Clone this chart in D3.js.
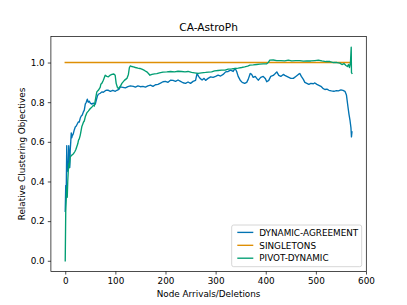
<!DOCTYPE html>
<html><head><meta charset="utf-8">
<script src="https://cdn.jsdelivr.net/npm/d3@7"></script>
<style>
html,body{margin:0;padding:0;background:#fff;}
svg{display:block;font-family:"DejaVu Sans",sans-serif;}
</style></head><body>
<div id="chart"></div>
<script>
const title = "CA-AstroPh";
const xLabel = "Node Arrivals/Deletions";
const yLabel = "Relative Clustering Objectives";
const seriesNames = ["DYNAMIC-AGREEMENT", "SINGLETONS", "PIVOT-DYNAMIC"];
const seriesColors = ["#0173B2", "#DE8F05", "#029E73"];
const xTicks = [0, 100, 200, 300, 400, 500, 600];
const yTicks = [0.0, 0.2, 0.4, 0.6, 0.8, 1.0];

const dynX = [0,1,2,3,4,5,6,7,8,9,10,11,12,13,14,16,18,20,22,24,26,28,30,32,34,36,38,40,42,44,46,48,50,53,56,60,62,64,66,70,73,76,80,83,86,90,95,100,103,107,110,115,120,125,130,136,140,145,150,155,160,165,170,175,180,185,190,195,200,205,210,215,220,225,230,235,240,245,250,255,260,263,266,269,273,277,280,285,290,295,300,305,310,315,320,325,330,335,339,342,345,349,353,358,362,365,369,372,375,379,382,385,390,395,399,402,406,410,415,419,422,426,430,435,438,442,446,450,455,460,465,468,471,475,478,482,486,490,495,498,502,506,510,514,518,522,526,531,536,541,545,550,554,558,561,564,566,568,570,571,572];
const dynY = [0.25,0.38,0.35,0.58,0.45,0.50,0.46,0.58,0.50,0.47,0.56,0.60,0.645,0.62,0.63,0.64,0.66,0.675,0.68,0.69,0.70,0.70,0.72,0.73,0.735,0.75,0.76,0.79,0.80,0.815,0.80,0.805,0.795,0.79,0.795,0.79,0.81,0.83,0.84,0.845,0.852,0.85,0.858,0.861,0.86,0.855,0.86,0.855,0.86,0.865,0.877,0.875,0.872,0.878,0.882,0.88,0.876,0.882,0.878,0.88,0.876,0.882,0.886,0.88,0.888,0.89,0.896,0.903,0.905,0.90,0.911,0.91,0.905,0.912,0.905,0.898,0.895,0.902,0.895,0.905,0.91,0.945,0.93,0.92,0.912,0.92,0.91,0.92,0.928,0.925,0.93,0.936,0.932,0.94,0.953,0.955,0.962,0.955,0.97,0.955,0.93,0.911,0.90,0.895,0.90,0.915,0.945,0.94,0.925,0.93,0.92,0.911,0.925,0.93,0.92,0.903,0.91,0.93,0.935,0.945,0.953,0.935,0.93,0.94,0.935,0.93,0.925,0.92,0.92,0.93,0.94,0.945,0.93,0.915,0.90,0.895,0.89,0.895,0.893,0.897,0.89,0.885,0.88,0.87,0.864,0.866,0.86,0.857,0.855,0.858,0.857,0.862,0.86,0.855,0.836,0.777,0.74,0.71,0.67,0.625,0.65];

const singX = [0, 569];
const singY = [1.0, 1.0];

const pivX = [0,1,2,3,4,5,6,7,8,10,12,14,16.5,19,21,23,25,26.5,28,30,33,36.5,38,40,43,46,50,53,56.4,58,60,63,66,69.7,71,73,76,79.7,83,86,89,93,97,99.6,101.6,104,106,110,113,118,123,126,128,130,133,136,140,145,149,154,158,162.7,166,169,173,178,182.7,188,195,202.6,210,218,225,232,239,245,252,258,265,272,280,286,292,298,305,312,319,325,332,339,345,352,358,364,368.5,375,382,388,395,402,405,408,415,422,430,438,445,452,460,468,475,482,490,498,505,512,520,528,535,542,548,552,556,560,563,565,567,569,570.5,571,572];
const pivY = [0.0,0.25,0.31,0.373,0.32,0.40,0.45,0.49,0.47,0.525,0.53,0.535,0.54,0.55,0.56,0.575,0.59,0.609,0.615,0.634,0.676,0.70,0.705,0.726,0.746,0.755,0.768,0.775,0.785,0.78,0.81,0.852,0.86,0.875,0.89,0.895,0.911,0.936,0.93,0.928,0.935,0.94,0.942,0.936,0.895,0.875,0.869,0.88,0.895,0.91,0.92,0.94,0.975,0.983,0.98,0.978,0.975,0.972,0.97,0.965,0.96,0.953,0.945,0.936,0.94,0.943,0.944,0.948,0.952,0.953,0.955,0.953,0.956,0.955,0.953,0.955,0.95,0.948,0.945,0.948,0.95,0.952,0.953,0.958,0.96,0.962,0.962,0.967,0.968,0.97,0.972,0.975,0.978,0.982,0.987,0.988,0.99,0.992,0.993,0.994,1.0,1.012,1.013,1.01,1.01,1.008,1.012,1.008,1.01,1.01,1.007,1.008,1.008,1.01,1.012,1.008,1.005,1.005,1.0,1.0,0.997,0.99,0.995,0.985,0.98,0.99,0.975,1.0,1.077,0.95,0.945];

const W = 407, H = 305;
const L = 50.9, R = 366.3, T = 36.6, B = 271.45;

const allX = dynX.concat(singX, pivX), allY = dynY.concat(singY, pivY);
const [x0, x1] = d3.extent(allX), [y0, y1] = d3.extent(allY);
const mx = (x1 - x0) * 0.05, my = (y1 - y0) * 0.05;
const x = d3.scaleLinear().domain([x0 - mx, x1 + mx]).range([L, R]);
const y = d3.scaleLinear().domain([y0 - my, y1 + my]).range([B, T]);

const svg = d3.select("#chart").append("svg").attr("width", W).attr("height", H);
svg.append("rect").attr("width", W).attr("height", H).attr("fill", "#fff");

const series = [
  {name: seriesNames[0], color: seriesColors[0], xs: dynX, ys: dynY},
  {name: seriesNames[1], color: seriesColors[1], xs: singX, ys: singY},
  {name: seriesNames[2], color: seriesColors[2], xs: pivX, ys: pivY}
];
const line = d3.line().x(d => x(d[0])).y(d => y(d[1]));
const plot = svg.append("g");
series.forEach(s => {
  plot.append("path").datum(s.xs.map((v, i) => [v, s.ys[i]]))
    .attr("d", line).attr("fill", "none").attr("stroke", s.color)
    .attr("stroke-width", 1.35).attr("stroke-linejoin", "round").attr("stroke-linecap", "square");
});

const fs = 8.83;
const xAxis = svg.append("g").attr("transform", `translate(0,${B})`)
  .call(d3.axisBottom(x).tickValues(xTicks).tickSize(3.1).tickPadding(3.1).tickFormat(d3.format("d")));
const yAxis = svg.append("g").attr("transform", `translate(${L},0)`)
  .call(d3.axisLeft(y).tickValues(yTicks).tickSize(3.1).tickPadding(3.1).tickFormat(d3.format(".1f")));
[xAxis, yAxis].forEach(a => {
  a.select(".domain").remove();
  a.selectAll("line").attr("stroke", "#000").attr("stroke-width", 0.7);
  a.selectAll("text").attr("font-size", fs).attr("fill", "#000").attr("font-family", "DejaVu Sans");
});

svg.append("rect").attr("x", L).attr("y", T).attr("width", R - L).attr("height", B - T)
  .attr("fill", "none").attr("stroke", "#000").attr("stroke-width", 0.7);

svg.append("text").attr("x", (L + R) / 2).attr("y", T - 5.3).attr("text-anchor", "middle")
  .attr("font-size", 10.6).attr("fill", "#000").text(title);
svg.append("text").attr("x", (L + R) / 2).attr("y", 296.5).attr("text-anchor", "middle")
  .attr("font-size", fs).attr("fill", "#000").text(xLabel);
svg.append("text").attr("transform", `translate(24.5,${(T + B) / 2}) rotate(-90)`).attr("text-anchor", "middle")
  .attr("font-size", fs).attr("fill", "#000").text(yLabel);

const lg = svg.append("g");
lg.append("rect").attr("x", 231.7).attr("y", 225).attr("width", 130).attr("height", 41.7)
  .attr("rx", 2).attr("fill", "#fff").attr("fill-opacity", 0.8).attr("stroke", "#cccccc").attr("stroke-width", 0.8);
series.forEach((s, i) => {
  const cy = 232.4 + i * 12.9;
  lg.append("line").attr("x1", 237.3).attr("x2", 253.3).attr("y1", cy).attr("y2", cy)
    .attr("stroke", s.color).attr("stroke-width", 1.35);
  lg.append("text").attr("x", 259.3).attr("y", cy + 3.2).attr("font-size", fs).attr("fill", "#000").text(s.name);
});
</script>
</body></html>
